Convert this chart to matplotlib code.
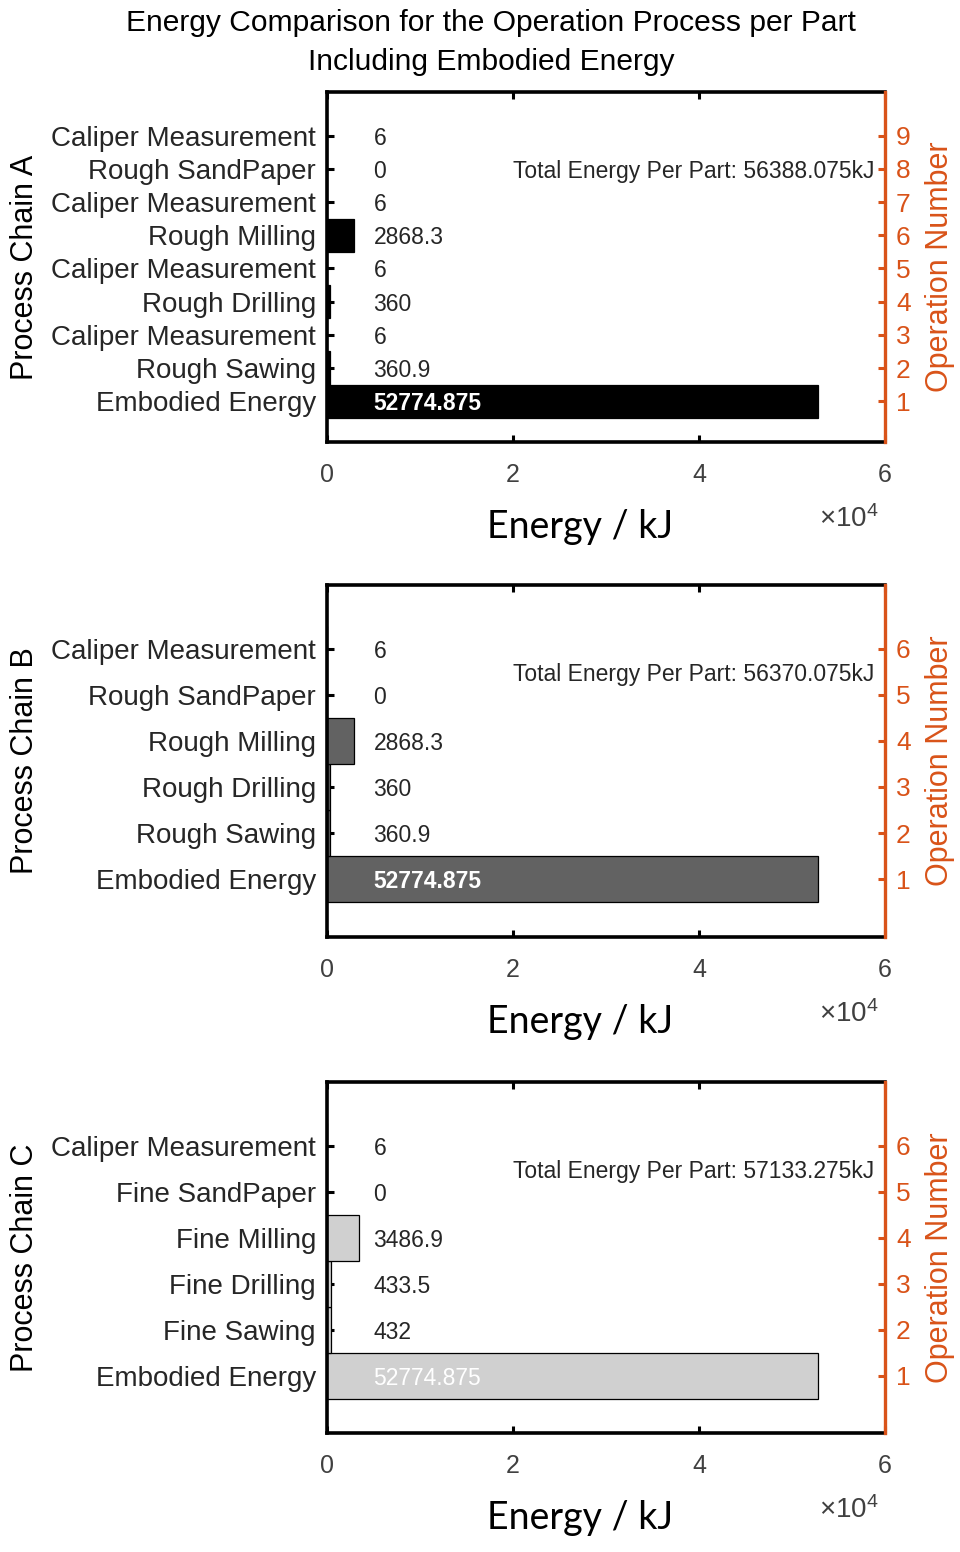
import matplotlib
matplotlib.use("Agg")
import matplotlib.pyplot as plt

plt.rcParams['font.family'] = ['Liberation Sans', 'DejaVu Sans']
plt.rcParams['mathtext.fontset'] = 'custom'
plt.rcParams['mathtext.rm'] = 'Liberation Sans'
plt.rcParams['mathtext.it'] = 'Liberation Sans'

# ---- data (listed from operation 1 upward) ----
labels_a = ["Embodied Energy", "Rough Sawing", "Caliper Measurement", "Rough Drilling",
            "Caliper Measurement", "Rough Milling", "Caliper Measurement",
            "Rough SandPaper", "Caliper Measurement"]
energy_a = [52774.875, 360.9, 6, 360, 6, 2868.3, 6, 0, 6]

labels_b = ["Embodied Energy", "Rough Sawing", "Rough Drilling", "Rough Milling",
            "Rough SandPaper", "Caliper Measurement"]
energy_b = [52774.875, 360.9, 360, 2868.3, 0, 6]

labels_c = ["Embodied Energy", "Fine Sawing", "Fine Drilling", "Fine Milling",
            "Fine SandPaper", "Caliper Measurement"]
energy_c = [52774.875, 432, 433.5, 3486.9, 0, 6]

chain_names = ["Process Chain A", "Process Chain B", "Process Chain C"]
x_ticks = [0, 20000, 40000, 60000]
x_tick_labels = ["0", "2", "4", "6"]

ORANGE = "#D95319"
TXT = "#262626"
W, H = 960, 1552

fig = plt.figure(figsize=(W / 100, H / 100), dpi=100)

fig.text(491 / W, 1 - 23 / H, "Energy Comparison for the Operation Process per Part",
         ha="center", va="center", fontsize=21.6, color="black")
fig.text(491 / W, 1 - 62 / H, "Including Embodied Energy",
         ha="center", va="center", fontsize=21.6, color="black")

panels = [
    dict(labels=labels_a, energy=energy_a, name=chain_names[0], face="black",
         top=92, bottom=442, ylim=(-0.23, 10.32), total_y=8, bold=True),
    dict(labels=labels_b, energy=energy_b, name=chain_names[1], face="#626262",
         top=585, bottom=937, ylim=(-0.26, 7.39), total_y=5.5, bold=True),
    dict(labels=labels_c, energy=energy_c, name=chain_names[2], face="#d0d0d0",
         top=1082, bottom=1433, ylim=(-0.24, 7.39), total_y=5.5, bold=False),
]

left_px, right_px = 327, 885

for p in panels:
    ax = fig.add_axes([left_px / W, 1 - p["bottom"] / H,
                       (right_px - left_px) / W, (p["bottom"] - p["top"]) / H])
    n = len(p["energy"])
    ops = list(range(1, n + 1))
    ax.barh(ops, p["energy"], height=1.0, color=p["face"], edgecolor="black",
            linewidth=0.9, zorder=2)
    ax.set_xlim(0, 60000)
    ax.set_ylim(*p["ylim"])
    ax.set_xticks(x_ticks)
    ax.set_xticklabels(x_tick_labels)
    ax.set_yticks(ops)
    ax.set_yticklabels(p["labels"])
    for s in ("left", "top", "bottom"):
        ax.spines[s].set_linewidth(2.6)
        ax.spines[s].set_color("black")
    ax.spines["right"].set_visible(False)
    ax.tick_params(axis="y", direction="in", length=5, width=2.2, pad=8,
                   labelsize=20, labelcolor=TXT, right=False)
    ax.tick_params(axis="x", direction="in", length=5, width=2.2, pad=15,
                   labelsize=18, labelcolor="#404040", top=True)

    # value labels beside each bar
    for i, v in enumerate(p["energy"]):
        is_big = v > 20000
        ax.text(5000, ops[i], f"{v:.10g}", ha="left", va="center_baseline",
                fontsize=16.5, color="white" if is_big else TXT,
                fontweight="bold" if (is_big and p["bold"]) else "normal", zorder=3)

    total = sum(p["energy"])
    ax.text(20000, p["total_y"], f"Total Energy Per Part: {total:.3f}kJ",
            ha="left", va="center_baseline", fontsize=16.5, color=TXT, zorder=3)

    # operation number axis
    ax2 = ax.twinx()
    ax2.set_ylim(*p["ylim"])
    ax2.set_yticks(ops)
    ax2.set_yticklabels([str(o) for o in ops])
    for s in ("left", "top", "bottom"):
        ax2.spines[s].set_visible(False)
    ax2.spines["right"].set_color(ORANGE)
    ax2.spines["right"].set_linewidth(2.4)
    ax2.tick_params(axis="y", direction="in", length=5, width=2.2, pad=8,
                    labelsize=19, colors=ORANGE)

    yc = 1 - (p["top"] + p["bottom"]) / 2 / H
    fig.text(25 / W, yc, p["name"], rotation=90, ha="center", va="center",
             fontsize=22, color="black")
    fig.text(940 / W, yc, "Operation Number", rotation=90, ha="center", va="center",
             fontsize=22, color=ORANGE)

    # axis label and exponent under each panel
    fig.text(580 / W, 1 - (p["bottom"] + 85) / H, "Energy / kJ", ha="center",
             va="center", fontsize=27, family=["Lato", "DejaVu Sans"], color="black")
    fig.text(879 / W, 1 - (p["bottom"] + 77) / H, r"$\times\mathregular{10^{4}}$",
             ha="right", va="center", fontsize=20, color="#404040")

fig.savefig("out.png", dpi=100)
